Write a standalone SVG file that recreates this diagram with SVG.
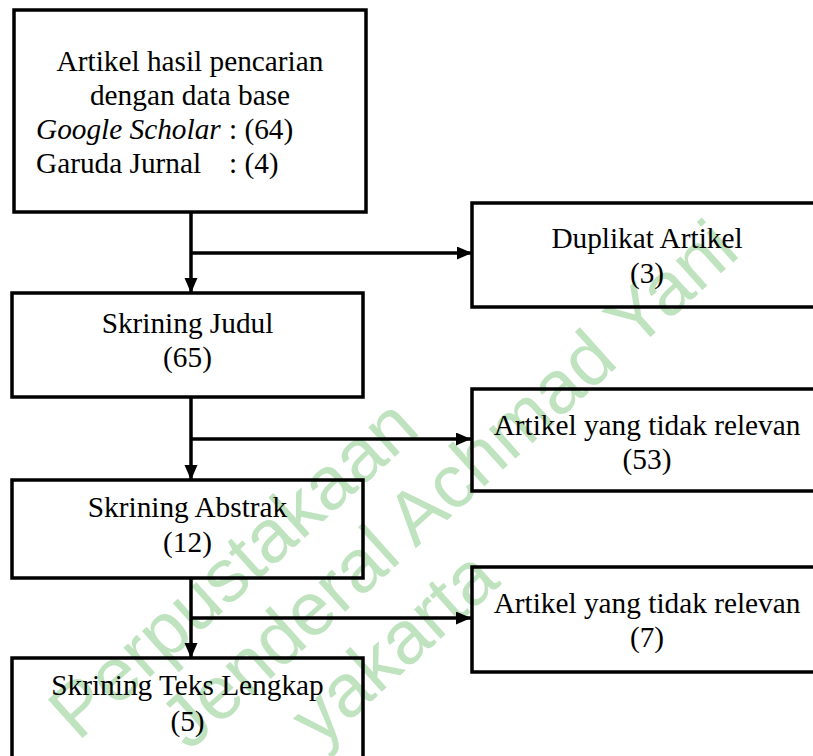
<svg xmlns="http://www.w3.org/2000/svg" width="813" height="756" viewBox="0 0 813 756">
<style>
.box{fill:none;stroke:#000;stroke-width:3.5}
.t{font-family:"Liberation Serif","Times New Roman",serif;font-size:29.3px;fill:#000}
.c{text-anchor:middle}
.wm{font-family:"Liberation Sans",Arial,sans-serif;font-size:75px;fill:#bfe3bf}
.ln{fill:none;stroke:#000;stroke-width:3.5}
</style>
<defs>
<marker id="ah" markerUnits="userSpaceOnUse" markerWidth="16" markerHeight="14" refX="15" refY="6.5" orient="auto">
<path d="M0,0 L15,6.5 L0,13 z" fill="#000"/>
</marker>
</defs>
<rect width="813" height="756" fill="#fff"/>
<g id="watermark" transform="translate(78,742) rotate(-42)">
<text class="wm" x="0" y="0">Perpustakaan</text>
<text class="wm" x="76" y="82">Jenderal Achmad Yani</text>
<text class="wm" x="175" y="166">yakarta</text>
</g>
<g id="connectors">
<line class="ln" x1="191" y1="212" x2="191" y2="293" marker-end="url(#ah)"/>
<line class="ln" x1="191" y1="253" x2="472" y2="253" marker-end="url(#ah)"/>
<line class="ln" x1="191" y1="397" x2="191" y2="480" marker-end="url(#ah)"/>
<line class="ln" x1="191" y1="439" x2="471" y2="439" marker-end="url(#ah)"/>
<line class="ln" x1="191" y1="578" x2="191" y2="658" marker-end="url(#ah)"/>
<line class="ln" x1="191" y1="618" x2="471" y2="618" marker-end="url(#ah)"/>
</g>
<g id="n1">
<rect class="box" x="14" y="10" width="352" height="202"/>
<text class="t c" x="190" y="71">Artikel hasil pencarian</text>
<text class="t c" x="190" y="105">dengan data base</text>
<text class="t" x="36" y="139"><tspan font-style="italic">Google Scholar</tspan><tspan x="229">: (64)</tspan></text>
<text class="t" x="36" y="173">Garuda Jurnal<tspan x="229">: (4)</tspan></text>
</g>
<g id="n2">
<rect class="box" x="472" y="203" width="350" height="104"/>
<text class="t c" x="647" y="248">Duplikat Artikel</text>
<text class="t c" x="647" y="283">(3)</text>
</g>
<g id="n3">
<rect class="box" x="12" y="293" width="351" height="104"/>
<text class="t c" x="187.5" y="333">Skrining Judul</text>
<text class="t c" x="187.5" y="367">(65)</text>
</g>
<g id="n4">
<rect class="box" x="472" y="389" width="350" height="102"/>
<text class="t c" x="647" y="435">Artikel yang tidak relevan</text>
<text class="t c" x="647" y="469">(53)</text>
</g>
<g id="n5">
<rect class="box" x="12" y="480" width="351" height="98"/>
<text class="t c" x="187.5" y="517">Skrining Abstrak</text>
<text class="t c" x="187.5" y="552">(12)</text>
</g>
<g id="n6">
<rect class="box" x="472" y="567" width="350" height="105"/>
<text class="t c" x="647" y="613">Artikel yang tidak relevan</text>
<text class="t c" x="647" y="647">(7)</text>
</g>
<g id="n7">
<rect class="box" x="12" y="658" width="351" height="115"/>
<text class="t c" x="187.5" y="695">Skrining Teks Lengkap</text>
<text class="t c" x="187.5" y="731">(5)</text>
</g>
</svg>
